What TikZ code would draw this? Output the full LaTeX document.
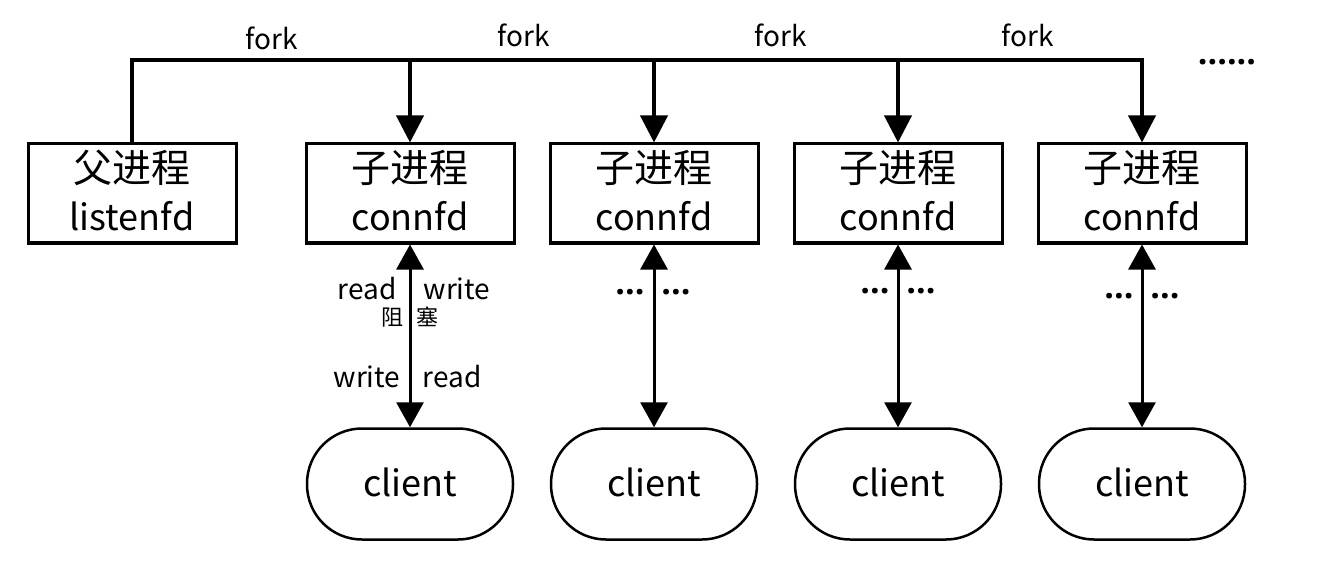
\documentclass[tikz,border=0pt]{standalone}
\usepackage{fontspec}
\setmainfont{Open Sans}
\newfontfamily\cjk{Noto Sans CJK SC}
\usetikzlibrary{arrows.meta}
\begin{document}
\begin{tikzpicture}[x=1pt,y=-1pt,
  box/.style={draw,line width=3pt,minimum width=208pt,minimum height=99pt,inner sep=0pt},
  cli/.style={draw,line width=2.5pt,rounded corners=55pt,minimum width=206pt,minimum height=111pt,inner sep=0pt},
  big/.style={anchor=base,inner sep=0pt,font=\cjk\fontsize{39}{42}\selectfont},
  fd/.style={anchor=base,inner sep=0pt,font=\cjk\fontsize{36}{40}\selectfont},
  lbl/.style={anchor=base,inner sep=0pt,font=\cjk\fontsize{28}{30}\selectfont},
  blk/.style={anchor=base,inner sep=0pt,font=\cjk\fontsize{22}{24}\selectfont},
  dots/.style={inner sep=0pt,font=\bfseries\fontsize{34}{34}\selectfont},
  fk/.style={line width=4pt,line join=miter,-{Triangle[length=27pt,width=27pt]}},
  rw/.style={line width=3pt,{Triangle[length=25pt,width=27pt]}-{Triangle[length=25pt,width=27pt]}}
]
\useasboundingbox (0,0) rectangle (1321,569);

% boxes
\node[box] (p) at (132,193.5) {};
\node[box] (c1) at (410,193.5) {};
\node[box] (c2) at (654,193.5) {};
\node[box] (c3) at (898,193.5) {};
\node[box] (c4) at (1142,193.5) {};
\node[big] (pt) at (132,183) {父进程};
\node[fd] (pf) at (132,231) {listenfd};
\foreach \i/\x in {1/410,2/654,3/898,4/1142}{
  \node[big] (ct\i) at (\x,183) {子进程};
  \node[fd] (cf\i) at (\x,231) {connfd};
}

% clients
\foreach \i/\x in {1/410,2/654,3/898,4/1142}{
  \node[cli] (k\i) at (\x,484) {};
  \node[fd] (kt\i) at (\x,496) {client};
}

% fork tree
\coordinate (j0) at (132,60);
\coordinate (j1) at (410,60);
\coordinate (j2) at (654,60);
\coordinate (j3) at (898,60);
\coordinate (j4) at (1142,60);
\draw[fk] (p.north) -- (j0) -- (j4) -- (c4.north);
\draw[fk] (j1) -- (c1.north);
\draw[fk] (j2) -- (c2.north);
\draw[fk] (j3) -- (c3.north);

\node[lbl] (f1) at (272,50) {fork};
\node[lbl] (f2) at (524,47) {fork};
\node[lbl] (f3) at (781,47) {fork};
\node[lbl] (f4) at (1028,47) {fork};
\node[dots] (more) at (1227,62) {......};

% read/write arrows
\draw[rw] (c1.south) -- (k1.north);
\draw[rw] (c2.south) -- (k2.north);
\draw[rw] (c3.south) -- (k3.north);
\draw[rw] (c4.south) -- (k4.north);

\node[lbl] (r1) at (367,299) {read};
\node[lbl] (w1) at (457,299) {write};
\node[blk] (z1) at (392,325) {阻};
\node[blk] (z2) at (427,325) {塞};
\node[lbl] (w2) at (367,387) {write};
\node[lbl] (r2) at (452,387) {read};

\node[dots] (d2a) at (630,292) {...};
\node[dots] (d2b) at (676,292) {...};
\node[dots] (d3a) at (875,291) {...};
\node[dots] (d3b) at (921,291) {...};
\node[dots] (d4a) at (1119,296) {...};
\node[dots] (d4b) at (1165,296) {...};
\end{tikzpicture}
\end{document}
